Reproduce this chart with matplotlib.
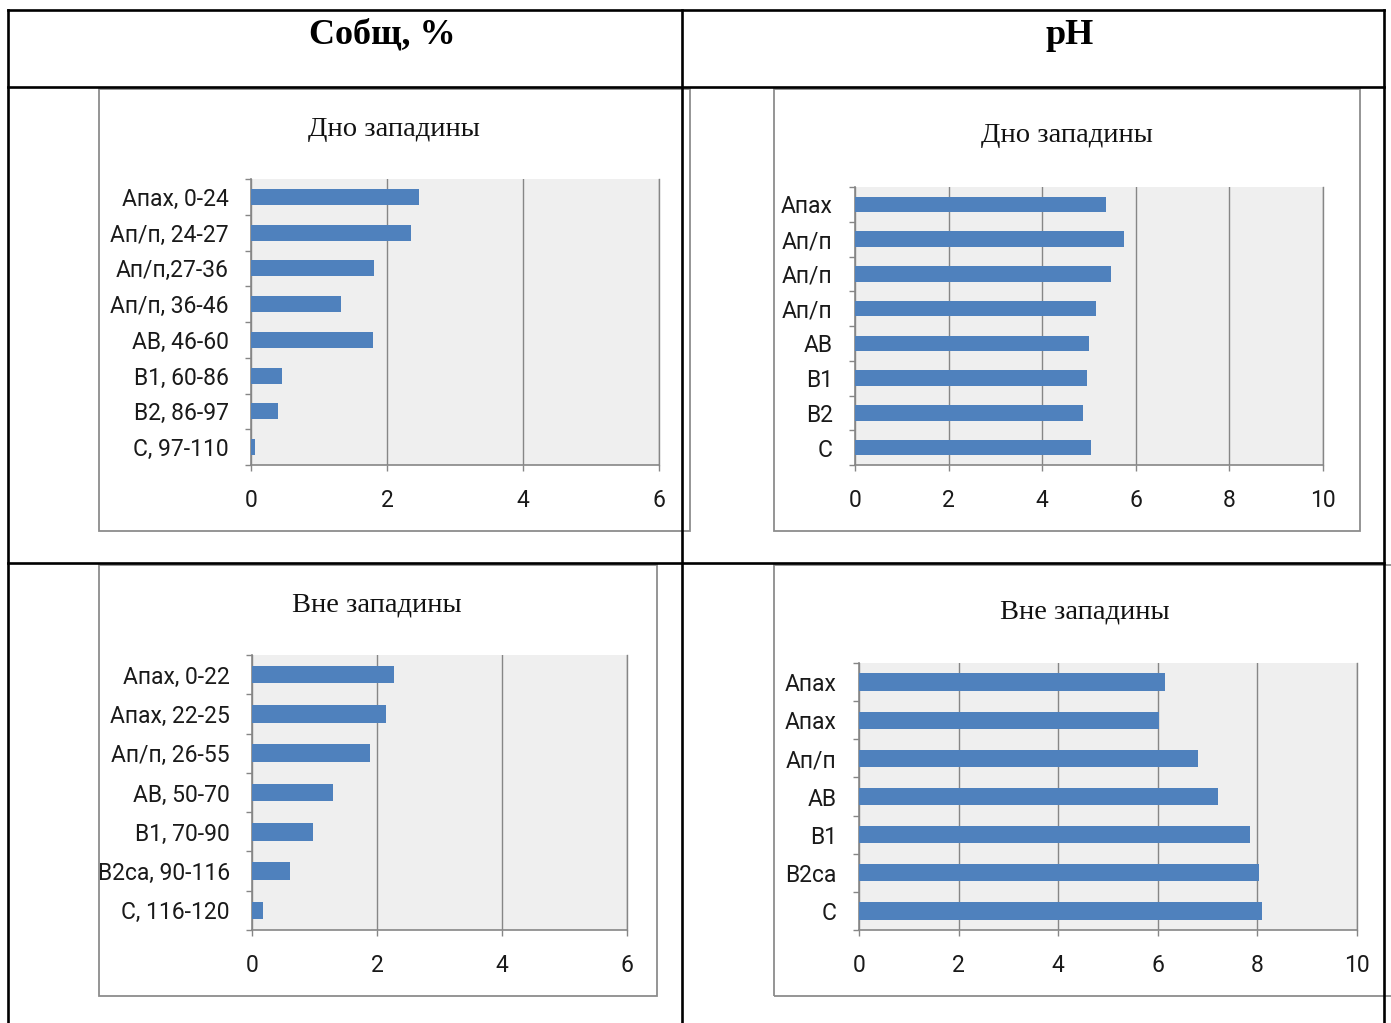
import matplotlib.pyplot as plt
from matplotlib import font_manager
from matplotlib.patches import Rectangle
from matplotlib.lines import Line2D

W, H = 1391, 1023

# horizon labels and values
c_bottom_labels = ['Апах, 0-24', 'Ап/п, 24-27', 'Ап/п,27-36', 'Ап/п, 36-46',
                   'АВ, 46-60', 'В1, 60-86', 'В2, 86-97', 'С, 97-110']
c_bottom_values = [2.47, 2.35, 1.81, 1.33, 1.80, 0.46, 0.40, 0.06]

ph_bottom_labels = ['Апах', 'Ап/п', 'Ап/п', 'Ап/п', 'АВ', 'В1', 'В2', 'С']
ph_bottom_values = [5.37, 5.74, 5.46, 5.14, 4.99, 4.95, 4.88, 5.04]

c_outside_labels = ['Апах, 0-22', 'Апах, 22-25', 'Ап/п, 26-55', 'АВ, 50-70',
                    'В1, 70-90', 'В2са, 90-116', 'С, 116-120']
c_outside_values = [2.27, 2.14, 1.88, 1.30, 0.97, 0.61, 0.17]

ph_outside_labels = ['Апах', 'Апах', 'Ап/п', 'АВ', 'В1', 'В2са', 'С']
ph_outside_values = [6.15, 6.02, 6.80, 7.21, 7.85, 8.03, 8.10]

installed = {f.name for f in font_manager.fontManager.ttflist}
sans = 'Roboto' if 'Roboto' in installed else 'Liberation Sans'
serif = 'Liberation Serif'

BAR = '#4f81bd'
GRID = '#868686'


def fx(x):
    return x / W


def fy(y):
    return 1 - y / H


def rect(x0, y0, x1, y1):
    return [fx(x0), fy(y1), (x1 - x0) / W, (y1 - y0) / H]


fig = plt.figure(figsize=(W / 100, H / 100), dpi=100)
fig.patch.set_facecolor('white')

# chart frames
for x0, y0, x1, y1 in [(99, 89, 690, 531), (774, 89, 1360, 531),
                       (99, 565, 657, 996), (774, 565, 1396, 996)]:
    fig.add_artist(Rectangle((fx(x0), fy(y1)), (x1 - x0) / W, (y1 - y0) / H,
                             transform=fig.transFigure, fill=False,
                             edgecolor='#8c8c8c', linewidth=1.3, zorder=1))


def bar_panel(box, labels, values, xmax, title, title_xy):
    ax = fig.add_axes(rect(*box))
    n = len(labels)
    pos = list(range(n))
    ax.set_facecolor('#efefef')
    ax.barh(pos, values, height=0.45, color=BAR, zorder=3)
    ax.set_xlim(0, xmax)
    ax.set_ylim(n - 0.5, -0.5)
    ax.set_xticks(range(0, xmax + 1, 2))
    ax.grid(axis='x', color=GRID, linewidth=1.0, zorder=1)
    ax.set_axisbelow(True)
    ax.set_yticks(pos)
    ax.set_yticklabels(labels)
    ax.set_yticks([p - 0.5 for p in range(n + 1)], minor=True)
    ax.tick_params(axis='y', which='major', length=0, pad=16,
                   labelsize=16.5, labelcolor='#1a1a1a')
    ax.tick_params(axis='y', which='minor', length=4.5, color=GRID, width=1)
    ax.tick_params(axis='x', length=4.5, color=GRID, width=1, pad=13,
                   labelsize=16.5, labelcolor='#1a1a1a')
    for lab in ax.get_xticklabels() + ax.get_yticklabels():
        lab.set_family(sans)
    ax.spines['top'].set_visible(False)
    ax.spines['right'].set_color(GRID)
    ax.spines['right'].set_linewidth(1.0)
    for side in ('left', 'bottom'):
        ax.spines[side].set_color(GRID)
        ax.spines[side].set_linewidth(1.2)
    fig.text(fx(title_xy[0]), fy(title_xy[1]), title, family=serif,
             fontsize=20.5, ha='center', va='center', color='#111111')
    return ax


bar_panel((251, 179, 659, 465), c_bottom_labels, c_bottom_values, 6,
          'Дно западины', (394, 130))
bar_panel((855, 187, 1323, 465), ph_bottom_labels, ph_bottom_values, 10,
          'Дно западины', (1067, 136))
bar_panel((252, 655, 627, 930), c_outside_labels, c_outside_values, 6,
          'Вне западины', (377, 605))
bar_panel((859, 663, 1357, 930), ph_outside_labels, ph_outside_values, 10,
          'Вне западины', (1085, 612))

# table header
fig.text(fx(382), fy(35), 'Собщ, %', family=serif, fontweight='bold',
         fontsize=26, ha='center', va='center')
fig.text(fx(1070), fy(35), 'pH', family=serif, fontweight='bold',
         fontsize=26, ha='center', va='center')

# table grid lines
table_lines = [((8, 8), (10, 1023)), ((682, 682), (10, 1023)),
               ((1384, 1384), (10, 1023)), ((8, 1384), (10, 10)),
               ((8, 1384), (87, 87)), ((8, 1384), (563, 563))]
for xs, ys in table_lines:
    fig.add_artist(Line2D([fx(x) for x in xs], [fy(y) for y in ys],
                          transform=fig.transFigure, color='black',
                          linewidth=1.9, zorder=10))

fig.savefig('out.png', dpi=100)
